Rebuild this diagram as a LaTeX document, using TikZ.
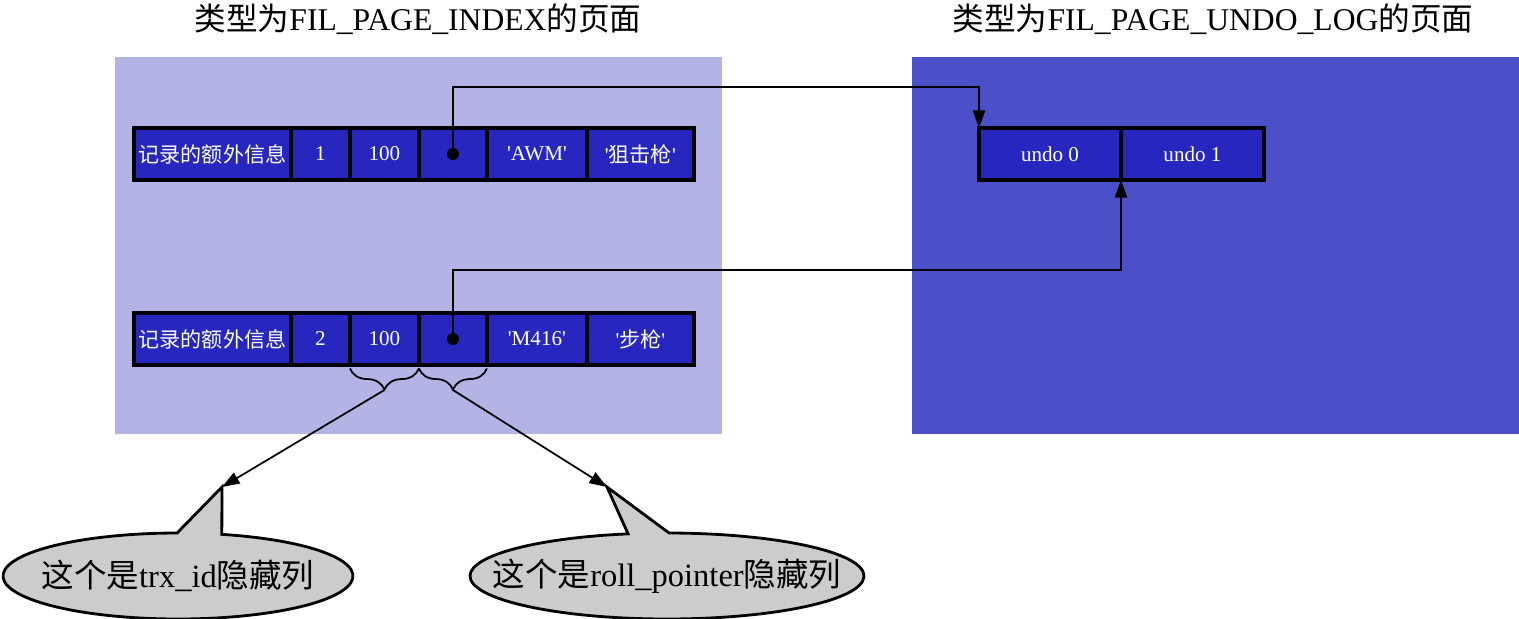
\documentclass[tikz,border=0pt]{standalone}
\usepackage{fontspec}
\newfontfamily\tms{Liberation Serif}
\newfontfamily\cjk{Noto Sans CJK SC}
\usetikzlibrary{positioning,calc,arrows.meta,decorations.pathreplacing}
\definecolor{pagelight}{HTML}{B3B3E6}
\definecolor{pagedark}{HTML}{4B50C8}
\definecolor{cellblue}{HTML}{2727BF}
\definecolor{bubblegray}{HTML}{CCCCCC}
\newcommand{\zh}[1]{{\cjk #1}}
\begin{document}
\begin{tikzpicture}[x=0.02cm, y=-0.02cm, font=\tms,
  cell/.style={draw, line width=2pt, fill=cellblue, text=white, inner sep=0pt, outer sep=0pt, minimum height=1.04cm, font=\tms\fontsize{12}{14}\selectfont},
  dot/.style={circle, fill, inner sep=0pt, minimum size=0.24cm},
  link/.style={line width=1pt, -{Triangle[length=10pt, width=7pt]}},
  brace/.style={line width=1pt, decorate, decoration={brace, mirror, amplitude=12pt}},
  bubble/.style={draw, line width=1.6pt, fill=bubblegray},
  title/.style={font=\tms\fontsize{18}{21}\selectfont},
  note/.style={font=\tms\fontsize{18.5}{21}\selectfont}]
\useasboundingbox (0,0) rectangle (1519,619);
\fill[pagelight] (115,57) rectangle (722,434);
\fill[pagedark] (912,57) rectangle (1519,434);
\node[title] (lt) at (418,19) {\zh{类型为}FIL\_PAGE\_INDEX\zh{的页面}};
\node[title] (rt) at (1213,19) {\zh{类型为}FIL\_PAGE\_UNDO\_LOG\zh{的页面}};
\node[cell, minimum width=3.14cm, anchor=west] (a0) at (134,154) {\zh{记录的额外信息}};
\node[cell, minimum width=1.18cm, right=0pt of a0] (a1) {1};
\node[cell, minimum width=1.38cm, right=0pt of a1] (a2) {100};
\node[cell, minimum width=1.36cm, right=0pt of a2] (a3) {};
\node[cell, minimum width=2.00cm, right=0pt of a3] (a4) {'AWM'};
\node[cell, minimum width=2.14cm, right=0pt of a4] (a5) {'\zh{狙击枪}'};
\node[cell, minimum width=3.14cm, anchor=west] (b0) at (134,339) {\zh{记录的额外信息}};
\node[cell, minimum width=1.18cm, right=0pt of b0] (b1) {2};
\node[cell, minimum width=1.38cm, right=0pt of b1] (b2) {100};
\node[cell, minimum width=1.36cm, right=0pt of b2] (b3) {};
\node[cell, minimum width=2.00cm, right=0pt of b3] (b4) {'M416'};
\node[cell, minimum width=2.14cm, right=0pt of b4] (b5) {'\zh{步枪}'};
\node[cell, minimum width=2.84cm, anchor=west] (u0) at (979,154) {undo 0};
\node[cell, minimum width=2.86cm, right=0pt of u0] (u1) {undo 1};
\node[dot] (ad) at (a3) {};
\node[dot] (bd) at (b3) {};
\coordinate (ak) at (453,87);
\coordinate (bk) at (453,270);
\draw[link] (ad.center) -- (ak) -| (u0.north west);
\draw[link] (bd.center) -- (bk) -| (u0.south east);
\draw[brace] ([yshift=-2pt]b2.south west) -- ([yshift=-2pt]b2.south east);
\draw[brace] ([yshift=-2pt]b3.south west) -- ([yshift=-2pt]b3.south east);
\coordinate (t1) at ($(b2.south)+(0,25)$);
\coordinate (t2) at ($(b3.south)+(0,25)$);
\coordinate (p1) at (222,487);
\coordinate (p2) at (607,487);
\coordinate (c1) at (178,576);
\coordinate (c2) at (667,576);
\draw[bubble] ($(c1)+(284.5:175 and 43)$) arc[start angle=284.5, end angle=629.7, x radius=175, y radius=43] -- (p1) -- cycle;
\draw[bubble] ($(c2)+(270.6:197 and 43)$) arc[start angle=270.6, end angle=618.6, x radius=197, y radius=43] -- (p2) -- cycle;
\node[note] (n1) at (c1) {\zh{这个是}trx\_id\zh{隐藏列}};
\node[note] (n2) at (c2) {\zh{这个是}roll\_pointer\zh{隐藏列}};
\draw[link] (t1) -- (p1);
\draw[link] (t2) -- (p2);
\end{tikzpicture}
\end{document}
